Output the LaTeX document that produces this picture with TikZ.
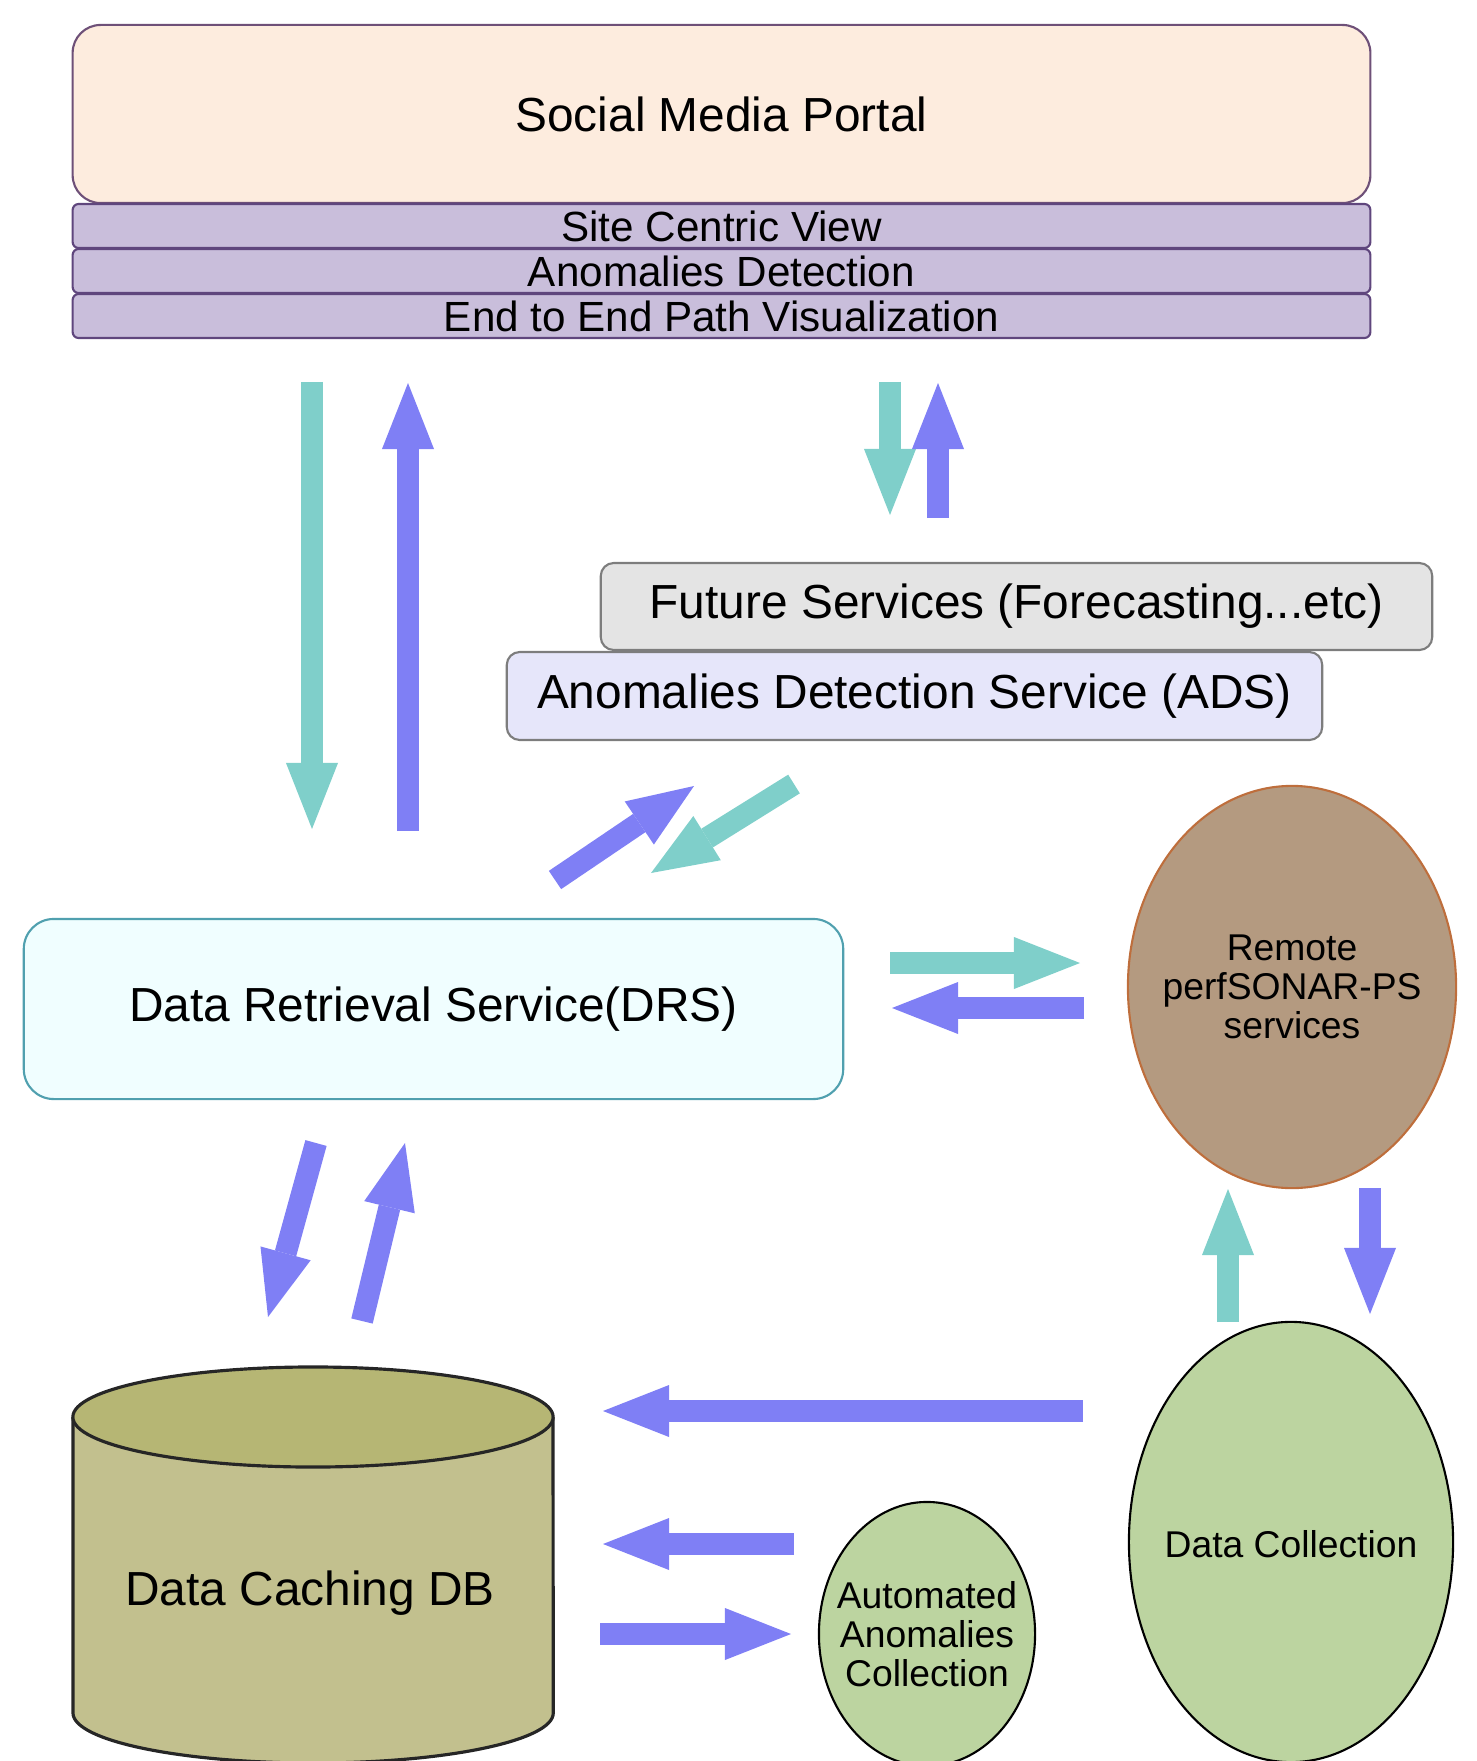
\documentclass[tikz,border=0pt]{standalone}
\usepackage{fontspec}
\setmainfont{Liberation Sans}
\usetikzlibrary{arrows.meta,shapes.geometric}

\definecolor{portalfill}{RGB}{253,236,222}
\definecolor{portaldraw}{RGB}{110,80,120}
\definecolor{barfill}{RGB}{201,190,219}
\definecolor{bardraw}{RGB}{95,70,125}
\definecolor{futurefill}{RGB}{228,228,228}
\definecolor{adsfill}{RGB}{230,230,250}
\definecolor{boxdraw}{RGB}{125,125,125}
\definecolor{drsfill}{RGB}{240,254,255}
\definecolor{drsdraw}{RGB}{80,160,175}
\definecolor{remotefill}{RGB}{180,154,128}
\definecolor{remotedraw}{RGB}{190,110,60}
\definecolor{collectfill}{RGB}{188,212,160}
\definecolor{dbside}{RGB}{194,192,142}
\definecolor{dbtop}{RGB}{182,182,116}
\definecolor{flowpurple}{RGB}{127,127,245}
\definecolor{flowteal}{RGB}{127,207,202}

\begin{document}
\begin{tikzpicture}[x=0.01cm,y=-0.01cm]

        % Styles
        \tikzstyle{big text}=[font=\fontsize{13.6}{16}\selectfont]
        \tikzstyle{mid text}=[font=\fontsize{12}{14}\selectfont]
        \tikzstyle{small text}=[font=\fontsize{10.6}{11.1}\selectfont,align=center]
        \tikzstyle{portal box}=[draw=portaldraw,fill=portalfill,line width=0.6pt,rounded corners=0.28cm,minimum width=12.97cm,minimum height=1.78cm,big text]
        \tikzstyle{layer bar}=[draw=bardraw,fill=barfill,line width=0.6pt,rounded corners=0.06cm,minimum width=12.97cm,minimum height=0.44cm,inner sep=0pt,mid text]
        \tikzstyle{service box}=[draw=boxdraw,line width=0.6pt,rounded corners=0.13cm,big text]
        \tikzstyle{blob}=[ellipse,draw,line width=0.6pt,inner sep=0pt]
        \tikzstyle{flow}=[line width=0.22cm,-{Triangle[length=0.66cm,width=0.52cm,line width=0pt]}]
        \tikzstyle{push}=[flow,draw=flowpurple]
        \tikzstyle{pull}=[flow,draw=flowteal]
        %The graphic
        \useasboundingbox (0,0) rectangle (1477,1761);

        %portal and its layers
        \node[portal box] (portal) at (721.5,114) {Social Media Portal};
        \foreach \n/\y/\txt in {site/226/Site Centric View, anomalies/271/Anomalies Detection, path/316/End to End Path Visualization}
            \node[layer bar] (\n) at (721.5,\y) {\txt};

        %services
        \node[service box,fill=futurefill,minimum width=8.31cm,minimum height=0.87cm] (future) at (1016.5,606.5) {Future Services (Forecasting...etc)};
        \node[service box,fill=adsfill,minimum width=8.15cm,minimum height=0.88cm] (ads) at (914.5,696) {Anomalies Detection Service (ADS)};
        \node[draw=drsdraw,fill=drsfill,line width=0.6pt,rounded corners=0.3cm,minimum width=8.19cm,minimum height=1.8cm,big text] (drs) at (433.5,1009) {Data Retrieval Service(DRS)};

        %ellipses
        \node[blob,draw=remotedraw,fill=remotefill,minimum width=3.28cm,minimum height=4.02cm] (remote) at (1292,987) {};
        \node[small text] (remote text) at (remote) {Remote\\perfSONAR-PS\\services};
        \node[blob,fill=collectfill,minimum width=3.24cm,minimum height=4.4cm] (collect) at (1291,1542) {};
        \node[small text] (collect text) at (1291,1544) {Data Collection};
        \node[blob,fill=collectfill,minimum width=2.16cm,minimum height=2.64cm] (aac) at (927,1634) {};
        \node[small text] (aac text) at (aac) {Automated\\Anomalies\\Collection};

        %database
        \filldraw[fill=dbside,draw=black!85,line width=0.9pt] (73,1417) -- (73,1713) arc[start angle=180,end angle=360,x radius=2.4cm,y radius=0.5cm] -- (553,1417);
        \filldraw[fill=dbtop,draw=black!85,line width=0.9pt] (313,1417) ellipse [x radius=2.4cm,y radius=0.5cm];
        \node[big text] (db) at (310,1593) {Data Caching DB};

        %arrow ends
        \foreach \n/\x/\y in {
            pd1/312/382, pd2/312/829,
            dp1/408/831, dp2/408/383,
            pa1/890/382, pa2/890/515,
            ap1/938/518, ap2/938/383,
            da1/555/880, da2/694/786,
            ad1/794/784, ad2/651/873,
            dr1/890/963, dr2/1080/963,
            rd1/1084/1008, rd2/892/1008,
            db1/316/1143, db2/268/1317,
            bd1/362/1321, bd2/405/1143,
            cr1/1228/1322, cr2/1228/1189,
            rc1/1370/1188, rc2/1370/1314,
            cb1/1083/1411, cb2/603/1411,
            ab1/794/1544, ab2/603/1544,
            ba1/600/1634, ba2/791/1634}
            \coordinate (\n) at (\x,\y);

        %arrows
        \draw[pull] (pd1) -- (pd2);
        \draw[push] (dp1) -- (dp2);
        \draw[pull] (pa1) -- (pa2);
        \draw[push] (ap1) -- (ap2);
        \draw[push] (da1) -- (da2);
        \draw[pull] (ad1) -- (ad2);
        \draw[pull] (dr1) -- (dr2);
        \draw[push] (rd1) -- (rd2);
        \draw[push] (db1) -- (db2);
        \draw[push] (bd1) -- (bd2);
        \draw[pull] (cr1) -- (cr2);
        \draw[push] (rc1) -- (rc2);
        \draw[push] (cb1) -- (cb2);
        \draw[push] (ab1) -- (ab2);
        \draw[push] (ba1) -- (ba2);
\end{tikzpicture}
\end{document}
